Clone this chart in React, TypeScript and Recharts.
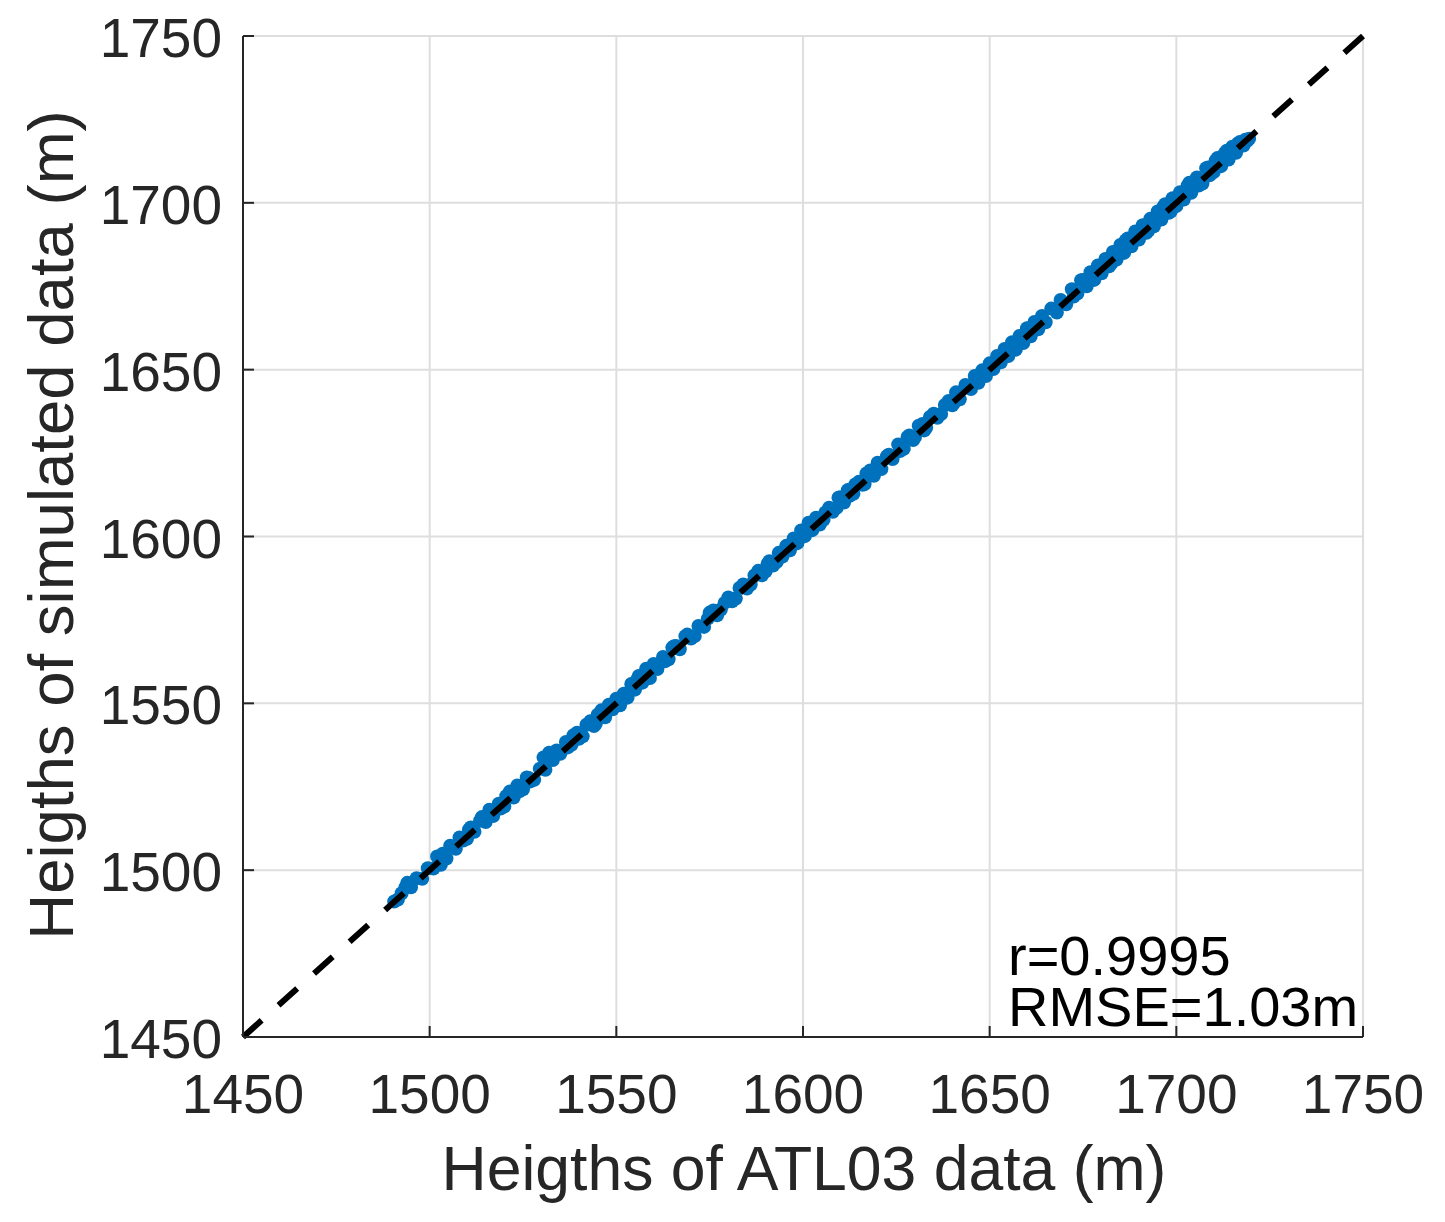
import React from 'react';
import { ScatterChart, Scatter, XAxis, YAxis, CartesianGrid } from 'recharts';

const tickValues = [1450, 1500, 1550, 1600, 1650, 1700, 1750];
const diagonalEnds = [1450, 1750];
const fitLabels = ['r=0.9995', 'RMSE=1.03m'];

// metres
const atl03Heights = [
  1490.5, 1491.5, 1492.5, 1493.5, 1494, 1495, 1496.5, 1498, 1499.5, 1501,
  1502, 1503, 1503.5, 1504.5, 1505.5, 1507, 1508, 1509, 1510.5, 1512,
  1513.5, 1515, 1516, 1517, 1518.5, 1520, 1521.5, 1522.5, 1523.5, 1525,
  1526.5, 1528, 1529.5, 1530.5, 1531, 1532, 1533, 1534, 1535, 1536.5,
  1538, 1539.5, 1541, 1543, 1544.5, 1546, 1547, 1548, 1549, 1550,
  1551, 1552, 1553, 1554, 1555, 1556, 1557, 1558, 1559, 1560,
  1561, 1562.5, 1564, 1565.5, 1567, 1568.5, 1570, 1572, 1573.5, 1575,
  1577, 1579, 1581, 1583, 1585, 1587, 1589, 1590.5, 1592, 1593.5,
  1594.5, 1595.5, 1596.5, 1597.5, 1598.5, 1599.5, 1600.5, 1601.5, 1602.5, 1603.5,
  1604.5, 1606, 1608, 1609.5, 1611, 1612, 1613.5, 1615, 1616.5, 1618,
  1619, 1620, 1621, 1622.5, 1624, 1625.5, 1627, 1628, 1629.5, 1631,
  1632.5, 1634, 1636, 1638, 1640, 1641, 1642, 1643.5, 1645, 1646,
  1647, 1648, 1649, 1650, 1651, 1652, 1653, 1654, 1655, 1656,
  1657, 1658, 1659, 1660, 1661, 1662, 1663, 1664, 1665, 1666.5,
  1668, 1669, 1670.5, 1672, 1673.5, 1675, 1676, 1677, 1678, 1679,
  1680, 1681, 1682, 1683, 1684, 1685, 1686, 1687, 1688, 1689,
  1690, 1691, 1692, 1693, 1694, 1695, 1696, 1697, 1698, 1699,
  1700, 1701, 1702, 1703, 1704, 1705.5, 1707, 1708.5, 1710, 1711,
  1712, 1713, 1714, 1715, 1716, 1717, 1718, 1718.5, 1719, 1719.5,
  1566, 1569, 1571, 1574.5, 1576, 1578, 1580, 1582, 1584, 1586,
  1588, 1590, 1591, 1593, 1605.5, 1607, 1609, 1610, 1612.5, 1614,
  1616, 1617, 1623, 1626, 1628.5, 1630, 1632, 1633, 1635, 1637,
  1639, 1640.5, 1510, 1511, 1514, 1519, 1520.5, 1524, 1526, 1527,
  1537, 1538.5, 1540, 1542, 1544, 1545, 1555.5, 1563, 1565, 1660.5,
  1672.5, 1674.5, 1682.5, 1686.5, 1692.5, 1696.5, 1698.5, 1703.5, 1706, 1708,
  1709, 1710.5, 1713.5, 1716.5,
];

const simulatedHeights = [
  1490.6, 1491.2, 1493.1, 1494.8, 1496.2, 1494.9, 1497.6, 1497.4, 1500.6, 1500.5,
  1504.1, 1501.6, 1504.9, 1503.5, 1507.3, 1506.4, 1509.8, 1508.9, 1512.1, 1511.5,
  1514.8, 1514.4, 1518.1, 1516.2, 1519.9, 1519.1, 1523.6, 1521.8, 1525.4, 1524.2,
  1527.6, 1527.1, 1530.4, 1533.8, 1530.1, 1535.2, 1533.0, 1535.9, 1534.9, 1538.4,
  1537.6, 1541.2, 1540.1, 1544.6, 1543.9, 1547.9, 1545.8, 1549.6, 1548.2, 1551.4,
  1549.4, 1552.9, 1551.7, 1555.8, 1554.1, 1558.2, 1556.2, 1560.4, 1557.6, 1561.8,
  1560.3, 1563.9, 1563.2, 1567.1, 1566.2, 1570.1, 1569.4, 1573.2, 1572.9, 1577.2,
  1576.4, 1580.1, 1580.6, 1584.6, 1584.4, 1588.3, 1588.4, 1591.8, 1591.3, 1595.1,
  1594.0, 1597.2, 1595.9, 1599.4, 1598.0, 1601.8, 1600.1, 1604.1, 1601.9, 1605.6,
  1603.6, 1607.2, 1607.4, 1611.6, 1610.2, 1613.9, 1612.8, 1616.4, 1615.7, 1619.8,
  1618.2, 1622.1, 1620.2, 1624.1, 1623.2, 1627.6, 1626.3, 1629.8, 1628.9, 1633.2,
  1631.8, 1635.8, 1635.6, 1639.4, 1639.3, 1643.2, 1641.1, 1645.4, 1644.2, 1648.1,
  1646.1, 1649.8, 1648.1, 1651.9, 1650.2, 1654.1, 1652.2, 1656.2, 1654.1, 1658.2,
  1656.0, 1660.1, 1658.0, 1662.4, 1660.0, 1664.3, 1662.1, 1666.1, 1664.2, 1668.3,
  1667.1, 1670.9, 1669.6, 1674.1, 1672.8, 1676.9, 1675.0, 1679.2, 1676.9, 1681.2,
  1678.9, 1683.2, 1681.0, 1685.3, 1683.0, 1687.4, 1685.0, 1689.3, 1687.0, 1691.4,
  1689.0, 1693.3, 1691.0, 1695.2, 1693.0, 1697.4, 1695.0, 1699.6, 1697.0, 1701.4,
  1699.0, 1703.2, 1701.0, 1705.1, 1703.0, 1707.6, 1705.8, 1710.6, 1709.2, 1713.4,
  1711.0, 1714.9, 1713.0, 1716.8, 1715.0, 1718.2, 1717.2, 1718.9, 1718.6, 1719.2,
  1567.2, 1570.6, 1570.2, 1575.4, 1577.8, 1578.1, 1581.7, 1581.4, 1585.6, 1585.6,
  1589.7, 1589.6, 1592.6, 1592.4, 1605.0, 1608.6, 1608.6, 1611.8, 1612.2, 1615.6,
  1615.5, 1618.9, 1624.5, 1625.6, 1630.3, 1629.8, 1633.7, 1632.6, 1636.8, 1636.7,
  1640.6, 1640.1, 1509.4, 1512.8, 1515.9, 1518.5, 1522.2, 1523.6, 1527.8, 1526.6,
  1536.8, 1540.4, 1539.4, 1543.6, 1543.2, 1546.6, 1556.9, 1562.6, 1566.7, 1662.4,
  1671.9, 1676.8, 1681.7, 1688.8, 1691.6, 1698.8, 1697.4, 1706.0, 1705.2, 1710.4,
  1708.3, 1712.6, 1715.6, 1717.8,
];

const points = atl03Heights.map((x, i) => ({ x, y: simulatedHeights[i] }));
const diagonal = diagonalEnds.map((v) => ({ x: v, y: v }));

const FONT = '"Liberation Sans", Arial, sans-serif';
const AXIS_COLOR = '#262626';
const TICK_LEN = 11;

const XTick = ({ payload, x }: any) => (
  <g>
    <line x1={x} x2={x} y1={1037} y2={1037 - TICK_LEN} stroke={AXIS_COLOR} strokeWidth={2} />
    <text x={x} y={1113} textAnchor="middle" fontSize={55} fontFamily={FONT} fill={AXIS_COLOR}>
      {payload.value}
    </text>
  </g>
);

const YTick = ({ payload, y }: any) => (
  <g>
    <line x1={243} x2={243 + TICK_LEN} y1={y} y2={y} stroke={AXIS_COLOR} strokeWidth={2} />
    <text x={222} y={y + 21} textAnchor="end" fontSize={55} fontFamily={FONT} fill={AXIS_COLOR}>
      {payload.value}
    </text>
  </g>
);

export default function App() {
  return (
    <div style={{ position: 'absolute', left: 0, top: 0, width: 1445, height: 1222, background: '#fff' }}>
      <ScatterChart
        width={1445}
        height={1222}
        margin={{ top: 36, right: 82, bottom: 125, left: 143 }}
      >
        <CartesianGrid
          stroke="#dedede"
          strokeWidth={2}
          horizontalValues={tickValues}
          verticalValues={tickValues}
        />
        <XAxis
          type="number"
          dataKey="x"
          domain={[1450, 1750]}
          ticks={tickValues}
          interval={0}
          height={60}
          stroke={AXIS_COLOR}
          strokeWidth={2}
          tickLine={false}
          tick={XTick}
        />
        <YAxis
          type="number"
          dataKey="y"
          domain={[1450, 1750]}
          ticks={tickValues}
          interval={0}
          width={100}
          stroke={AXIS_COLOR}
          strokeWidth={2}
          tickLine={false}
          tick={YTick}
        />
        <Scatter data={points} fill="#0072bd" isAnimationActive={false} shape={(p: any) => (
          <circle cx={p.cx} cy={p.cy} r={7} fill="#0072bd" />
        )} />
        <Scatter
          data={diagonal}
          isAnimationActive={false}
          line={{ stroke: '#000', strokeWidth: 6, strokeDasharray: '25 22.65' }}
          shape={() => <g />}
        />
        <text x={804} y={1190} textAnchor="middle" fontSize={62.5} fontFamily={FONT} fill={AXIS_COLOR}>
          Heigths of ATL03 data (m)
        </text>
        <text
          transform="translate(73 525) rotate(-90)"
          textAnchor="middle"
          fontSize={63.5}
          fontFamily={FONT}
          fill={AXIS_COLOR}
        >
          Heigths of simulated data (m)
        </text>
        <text x={1008} y={975} fontSize={56} fontFamily={FONT} fill="#000">{fitLabels[0]}</text>
        <text x={1008} y={1026} fontSize={56} fontFamily={FONT} fill="#000">{fitLabels[1]}</text>
      </ScatterChart>
    </div>
  );
}
